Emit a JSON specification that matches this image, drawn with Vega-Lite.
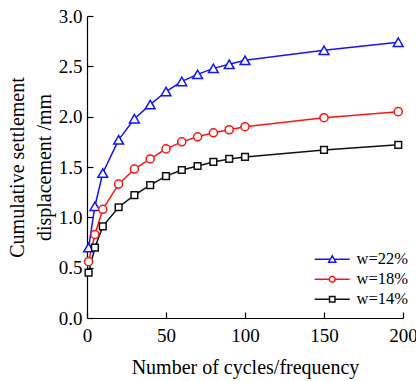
{
  "$schema": "https://vega.github.io/schema/vega-lite/v6.json",
  "width": 316,
  "height": 302,
  "autosize": {"type": "none"},
  "padding": {"left": 87, "top": 16, "right": 13, "bottom": 63},
  "config": {
    "view": {"stroke": null},
    "font": "Liberation Serif",
    "axis": {
      "grid": false,
      "labelFlush": false,
      "domainColor": "black",
      "tickColor": "black",
      "labelColor": "black",
      "titleColor": "black",
      "labelFont": "Liberation Serif",
      "titleFont": "Liberation Serif",
      "labelFontSize": 19,
      "titleFontSize": 20,
      "titleFontWeight": "normal",
      "tickSize": -6,
      "domainWidth": 1.2,
      "tickWidth": 1.2
    }
  },
  "data": {
    "values": [
      {"cycles": 1, "disp": 0.70, "series": "w=22%"},
      {"cycles": 5, "disp": 1.11, "series": "w=22%"},
      {"cycles": 10, "disp": 1.44, "series": "w=22%"},
      {"cycles": 20, "disp": 1.77, "series": "w=22%"},
      {"cycles": 30, "disp": 1.98, "series": "w=22%"},
      {"cycles": 40, "disp": 2.12, "series": "w=22%"},
      {"cycles": 50, "disp": 2.25, "series": "w=22%"},
      {"cycles": 60, "disp": 2.35, "series": "w=22%"},
      {"cycles": 70, "disp": 2.42, "series": "w=22%"},
      {"cycles": 80, "disp": 2.48, "series": "w=22%"},
      {"cycles": 90, "disp": 2.52, "series": "w=22%"},
      {"cycles": 100, "disp": 2.56, "series": "w=22%"},
      {"cycles": 150, "disp": 2.66, "series": "w=22%"},
      {"cycles": 197, "disp": 2.74, "series": "w=22%"},
      {"cycles": 1, "disp": 0.56, "series": "w=18%"},
      {"cycles": 5, "disp": 0.83, "series": "w=18%"},
      {"cycles": 10, "disp": 1.08, "series": "w=18%"},
      {"cycles": 20, "disp": 1.33, "series": "w=18%"},
      {"cycles": 30, "disp": 1.48, "series": "w=18%"},
      {"cycles": 40, "disp": 1.58, "series": "w=18%"},
      {"cycles": 50, "disp": 1.68, "series": "w=18%"},
      {"cycles": 60, "disp": 1.75, "series": "w=18%"},
      {"cycles": 70, "disp": 1.80, "series": "w=18%"},
      {"cycles": 80, "disp": 1.84, "series": "w=18%"},
      {"cycles": 90, "disp": 1.87, "series": "w=18%"},
      {"cycles": 100, "disp": 1.90, "series": "w=18%"},
      {"cycles": 150, "disp": 1.99, "series": "w=18%"},
      {"cycles": 197, "disp": 2.05, "series": "w=18%"},
      {"cycles": 1, "disp": 0.45, "series": "w=14%"},
      {"cycles": 5, "disp": 0.70, "series": "w=14%"},
      {"cycles": 10, "disp": 0.91, "series": "w=14%"},
      {"cycles": 20, "disp": 1.10, "series": "w=14%"},
      {"cycles": 30, "disp": 1.22, "series": "w=14%"},
      {"cycles": 40, "disp": 1.32, "series": "w=14%"},
      {"cycles": 50, "disp": 1.41, "series": "w=14%"},
      {"cycles": 60, "disp": 1.47, "series": "w=14%"},
      {"cycles": 70, "disp": 1.51, "series": "w=14%"},
      {"cycles": 80, "disp": 1.55, "series": "w=14%"},
      {"cycles": 90, "disp": 1.58, "series": "w=14%"},
      {"cycles": 100, "disp": 1.60, "series": "w=14%"},
      {"cycles": 150, "disp": 1.67, "series": "w=14%"},
      {"cycles": 197, "disp": 1.72, "series": "w=14%"}
    ]
  },
  "encoding": {
    "x": {
      "field": "cycles", "type": "quantitative",
      "scale": {"domain": [0, 200], "nice": false},
      "axis": {"values": [0, 50, 100, 150, 200], "title": "Number of cycles/frequency", "labelPadding": 14, "titlePadding": 12}
    },
    "y": {
      "field": "disp", "type": "quantitative",
      "scale": {"domain": [0, 3], "nice": false},
      "axis": {"values": [0, 0.5, 1, 1.5, 2, 2.5, 3], "format": ".1f", "title": ["Cumulative settlement", "displacement /mm"], "labelPadding": 11, "titlePadding": 4, "titleLineHeight": 27}
    },
    "color": {
      "field": "series", "type": "nominal",
      "scale": {"domain": ["w=22%", "w=18%", "w=14%"], "range": ["#1414ff", "#ff1414", "#111111"]},
      "legend": {
        "title": null,
        "orient": "none",
        "legendX": 237,
        "legendY": 235,
        "labelFont": "Liberation Serif",
        "labelFontSize": 16.5,
        "labelColor": "black",
        "labelOffset": 16,
        "symbolSize": 100,
        "symbolStrokeWidth": 1.5,
        "rowPadding": 3,
        "encode": {
          "symbols": {
            "update": {
              "fill": {"value": "white"},
              "shape": [
                {"test": "datum.value === 'w=22%'", "value": "M-3.5,0H-0.46M0.46,0H3.5M0,-0.7L0.72,0.6H-0.72Z"},
                {"test": "datum.value === 'w=18%'", "value": "M-3.5,0H-0.58M0.58,0H3.5M-0.58,0A0.58,0.58,0,1,0,0.58,0A0.58,0.58,0,1,0,-0.58,0Z"},
                {"value": "M-3.5,0H-0.54M0.54,0H3.5M-0.54,-0.54H0.54V0.54H-0.54Z"}
              ]
            }
          }
        }
      }
    }
  },
  "layer": [
    {"mark": {"type": "line", "strokeWidth": 1.5}},
    {
      "transform": [{"filter": "datum.series === 'w=22%'"}],
      "mark": {"type": "point", "shape": "triangle-up", "size": 95, "filled": false, "fill": "white", "strokeWidth": 1.5, "opacity": 1}
    },
    {
      "transform": [{"filter": "datum.series === 'w=18%'"}],
      "mark": {"type": "point", "shape": "circle", "size": 65, "filled": false, "fill": "white", "strokeWidth": 1.5, "opacity": 1}
    },
    {
      "transform": [{"filter": "datum.series === 'w=14%'"}],
      "mark": {"type": "point", "shape": "square", "size": 45, "filled": false, "fill": "white", "strokeWidth": 1.5, "opacity": 1}
    }
  ]
}
